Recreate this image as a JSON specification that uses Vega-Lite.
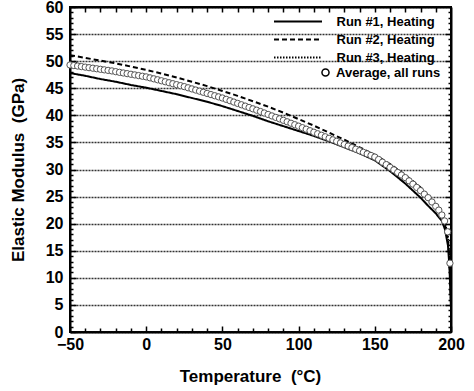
{
  "$schema": "https://vega.github.io/schema/vega-lite/v6.json",
  "width": 381,
  "height": 325,
  "autosize": {"type": "none"},
  "padding": {"left": 70, "top": 7, "right": 23, "bottom": 59},
  "background": "white",
  "config": {
    "view": {"stroke": "black", "strokeWidth": 2},
    "font": "Liberation Sans",
    "axis": {"labelFont": "Liberation Sans", "labelFontWeight": "bold", "labelFontSize": 16, "labelColor": "black", "titleFont": "Liberation Sans", "titleFontWeight": "bold", "titleFontSize": 17, "titleColor": "black", "domainColor": "black", "domainWidth": 2, "tickColor": "black", "tickWidth": 1.5},
    "legend": {"labelFont": "Liberation Sans", "labelFontWeight": "bold", "labelFontSize": 13, "labelColor": "black"}
  },
  "datasets": {
    "run1": [
      {"T": -50, "E": 47.8}, {"T": -40, "E": 47.3}, {"T": -30, "E": 46.7}, {"T": -20, "E": 46.2}, {"T": -10, "E": 45.6},
      {"T": 0, "E": 45.1}, {"T": 10, "E": 44.5}, {"T": 20, "E": 43.9}, {"T": 30, "E": 43.2}, {"T": 40, "E": 42.5},
      {"T": 50, "E": 41.7}, {"T": 60, "E": 40.8}, {"T": 70, "E": 39.9}, {"T": 80, "E": 38.9}, {"T": 90, "E": 38.0},
      {"T": 100, "E": 37.1}, {"T": 110, "E": 36.2}, {"T": 120, "E": 35.2}, {"T": 130, "E": 34.1}, {"T": 140, "E": 33.0},
      {"T": 150, "E": 31.7}, {"T": 160, "E": 29.7}, {"T": 170, "E": 27.4}, {"T": 180, "E": 24.8}, {"T": 185, "E": 23.3},
      {"T": 190, "E": 21.9}, {"T": 194, "E": 20.5}, {"T": 196, "E": 19.0}, {"T": 198, "E": 16.0}, {"T": 199, "E": 12.0},
      {"T": 199.5, "E": 8.0}, {"T": 200, "E": 4.5}
    ],
    "run2": [
      {"T": -50, "E": 51.1}, {"T": -40, "E": 50.6}, {"T": -30, "E": 50.1}, {"T": -20, "E": 49.6}, {"T": -10, "E": 49.0},
      {"T": 0, "E": 48.4}, {"T": 10, "E": 47.7}, {"T": 20, "E": 47.0}, {"T": 30, "E": 46.2}, {"T": 40, "E": 45.4},
      {"T": 50, "E": 44.5}, {"T": 60, "E": 43.6}, {"T": 70, "E": 42.6}, {"T": 80, "E": 41.6}, {"T": 90, "E": 40.5},
      {"T": 100, "E": 39.3}, {"T": 110, "E": 38.1}, {"T": 120, "E": 36.8}, {"T": 130, "E": 35.5}, {"T": 140, "E": 34.1},
      {"T": 150, "E": 32.7}, {"T": 160, "E": 31.0}, {"T": 170, "E": 29.0}, {"T": 180, "E": 26.7}, {"T": 185, "E": 25.2},
      {"T": 190, "E": 23.4}, {"T": 194, "E": 21.5}, {"T": 196, "E": 19.8}, {"T": 198, "E": 17.0}, {"T": 199, "E": 13.5},
      {"T": 199.5, "E": 9.5}, {"T": 200, "E": 5.0}
    ],
    "run3": [
      {"T": -50, "E": 50.0}, {"T": -40, "E": 49.2}, {"T": -30, "E": 48.7}, {"T": -20, "E": 48.2}, {"T": -10, "E": 47.7},
      {"T": 0, "E": 47.2}, {"T": 10, "E": 46.5}, {"T": 20, "E": 45.8}, {"T": 30, "E": 45.0}, {"T": 40, "E": 44.1},
      {"T": 50, "E": 43.3}, {"T": 60, "E": 42.4}, {"T": 70, "E": 41.3}, {"T": 80, "E": 40.2}, {"T": 90, "E": 39.2},
      {"T": 100, "E": 38.1}, {"T": 110, "E": 37.0}, {"T": 120, "E": 35.9}, {"T": 130, "E": 34.7}, {"T": 140, "E": 33.6},
      {"T": 150, "E": 32.4}, {"T": 160, "E": 30.5}, {"T": 170, "E": 28.6}, {"T": 180, "E": 26.2}, {"T": 185, "E": 24.9},
      {"T": 190, "E": 23.3}, {"T": 194, "E": 21.7}, {"T": 196, "E": 20.3}, {"T": 198, "E": 18.0}, {"T": 199, "E": 14.5},
      {"T": 199.5, "E": 10.5}, {"T": 200, "E": 6.0}
    ],
    "avg": [
      {"T": -50, "E": 49.3}, {"T": -47.5, "E": 49.2}, {"T": -45, "E": 49.1}, {"T": -42.5, "E": 49.0}, {"T": -40, "E": 48.9},
      {"T": -37.5, "E": 48.8}, {"T": -35, "E": 48.7}, {"T": -32.5, "E": 48.6}, {"T": -30, "E": 48.5}, {"T": -27.5, "E": 48.4},
      {"T": -25, "E": 48.3}, {"T": -22.5, "E": 48.2}, {"T": -20, "E": 48.06}, {"T": -17.5, "E": 47.94}, {"T": -15, "E": 47.82},
      {"T": -12.5, "E": 47.7}, {"T": -10, "E": 47.58}, {"T": -7.5, "E": 47.46}, {"T": -5, "E": 47.34}, {"T": -2.5, "E": 47.22},
      {"T": 0, "E": 47.1}, {"T": 2.5, "E": 46.92}, {"T": 5, "E": 46.74}, {"T": 7.5, "E": 46.56}, {"T": 10, "E": 46.38},
      {"T": 12.5, "E": 46.2}, {"T": 15, "E": 46.02}, {"T": 17.5, "E": 45.84}, {"T": 20, "E": 45.66}, {"T": 22.5, "E": 45.48},
      {"T": 25, "E": 45.3}, {"T": 27.5, "E": 45.09}, {"T": 30, "E": 44.88}, {"T": 32.5, "E": 44.67}, {"T": 35, "E": 44.46},
      {"T": 37.5, "E": 44.25}, {"T": 40, "E": 44.04}, {"T": 42.5, "E": 43.83}, {"T": 45, "E": 43.62}, {"T": 47.5, "E": 43.41},
      {"T": 50, "E": 43.2}, {"T": 52.5, "E": 42.95}, {"T": 55, "E": 42.7}, {"T": 57.5, "E": 42.45}, {"T": 60, "E": 42.2},
      {"T": 62.5, "E": 41.95}, {"T": 65, "E": 41.7}, {"T": 67.5, "E": 41.45}, {"T": 70, "E": 41.2}, {"T": 72.5, "E": 40.95},
      {"T": 75, "E": 40.7}, {"T": 77.5, "E": 40.43}, {"T": 80, "E": 40.16}, {"T": 82.5, "E": 39.89}, {"T": 85, "E": 39.62},
      {"T": 87.5, "E": 39.35}, {"T": 90, "E": 39.08}, {"T": 92.5, "E": 38.81}, {"T": 95, "E": 38.54}, {"T": 97.5, "E": 38.27},
      {"T": 100, "E": 38.0}, {"T": 102.5, "E": 37.72}, {"T": 105, "E": 37.44}, {"T": 107.5, "E": 37.16}, {"T": 110, "E": 36.88},
      {"T": 112.5, "E": 36.6}, {"T": 115, "E": 36.32}, {"T": 117.5, "E": 36.04}, {"T": 120, "E": 35.76}, {"T": 122.5, "E": 35.48},
      {"T": 125, "E": 35.2}, {"T": 127.5, "E": 34.91}, {"T": 130, "E": 34.62}, {"T": 132.5, "E": 34.33}, {"T": 135, "E": 34.04},
      {"T": 137.5, "E": 33.75}, {"T": 140, "E": 33.46}, {"T": 142.5, "E": 33.17}, {"T": 145, "E": 32.88}, {"T": 147.5, "E": 32.59},
      {"T": 150, "E": 32.3}, {"T": 152.5, "E": 31.85}, {"T": 155, "E": 31.35}, {"T": 157.5, "E": 30.9}, {"T": 160, "E": 30.4},
      {"T": 162.5, "E": 29.93}, {"T": 165, "E": 29.45}, {"T": 167.5, "E": 28.98}, {"T": 170, "E": 28.5}, {"T": 172.5, "E": 27.9},
      {"T": 175, "E": 27.3}, {"T": 177.5, "E": 26.7}, {"T": 180, "E": 26.1}, {"T": 182.5, "E": 25.45}, {"T": 185, "E": 24.8},
      {"T": 187.5, "E": 24.0}, {"T": 190, "E": 23.2}, {"T": 192, "E": 22.5}, {"T": 194, "E": 21.6}, {"T": 195.8, "E": 20.5},
      {"T": 197.8, "E": 18.5}, {"T": 199.3, "E": 12.7}
    ]
  },
  "resolve": {"axis": {"x": "independent", "y": "independent"}},
  "layer": [
    {
      "data": {"name": "run1"},
      "transform": [{"calculate": "'Run #1, Heating'", "as": "series"}],
      "mark": {"type": "line", "strokeWidth": 2},
      "encoding": {
        "x": {"field": "T", "type": "quantitative", "scale": {"domain": [-50, 200], "nice": false, "zero": false},
          "axis": {"orient": "bottom", "title": "Temperature\u00a0 (°C)", "titleX": 180, "values": [-50, 0, 50, 100, 150, 200], "tickSize": -6, "labelPadding": 10, "titlePadding": 16, "grid": false, "labelFlush": false}},
        "y": {"field": "E", "type": "quantitative", "scale": {"domain": [0, 60], "nice": false},
          "axis": {"orient": "left", "title": "Elastic Modulus\u00a0 (GPa)", "values": [0, 5, 10, 15, 20, 25, 30, 35, 40, 45, 50, 55, 60], "tickSize": -6, "labelPadding": 13, "titlePadding": 18, "grid": true, "gridColor": "#333", "gridDash": [2, 1], "gridWidth": 1.5}},
        "color": {"field": "series", "type": "nominal",
          "scale": {"domain": ["Run #1, Heating", "Run #2, Heating", "Run #3, Heating"], "range": ["black", "black", "black"]},
          "legend": {"title": null, "orient": "none", "legendX": 221.5, "legendY": 8, "symbolType": "M-8,0H8", "symbolSize": 36, "symbolStrokeWidth": 2, "symbolStrokeColor": "black", "symbolFillColor": "transparent", "rowPadding": 4, "labelOffset": 32}},
        "strokeDash": {"field": "series", "type": "nominal",
          "scale": {"domain": ["Run #1, Heating", "Run #2, Heating", "Run #3, Heating"], "range": [[1, 0], [5, 3], [1.5, 1.5]]},
          "legend": {"title": null, "orient": "none", "legendX": 221.5, "legendY": 8, "symbolType": "M-8,0H8", "symbolSize": 36, "symbolStrokeWidth": 2, "symbolStrokeColor": "black", "symbolFillColor": "transparent", "rowPadding": 4, "labelOffset": 32}}
      }
    },
    {
      "data": {"name": "run2"},
      "transform": [{"calculate": "'Run #2, Heating'", "as": "series"}],
      "mark": {"type": "line", "strokeWidth": 2},
      "encoding": {
        "x": {"field": "T", "type": "quantitative", "axis": {"orient": "bottom", "title": null, "values": [-40, -30, -20, -10, 10, 20, 30, 40, 60, 70, 80, 90, 110, 120, 130, 140, 160, 170, 180, 190], "tickSize": -4, "labels": false, "domain": false, "grid": false}},
        "y": {"field": "E", "type": "quantitative", "axis": {"orient": "left", "title": null, "values": [1,2,3,4,6,7,8,9,11,12,13,14,16,17,18,19,21,22,23,24,26,27,28,29,31,32,33,34,36,37,38,39,41,42,43,44,46,47,48,49,51,52,53,54,56,57,58,59], "tickSize": -3, "labels": false, "domain": false, "grid": false}},
        "color": {"field": "series", "type": "nominal"},
        "strokeDash": {"field": "series", "type": "nominal"}
      }
    },
    {
      "data": {"name": "run3"},
      "transform": [{"calculate": "'Run #3, Heating'", "as": "series"}],
      "mark": {"type": "line", "strokeWidth": 1.5},
      "encoding": {
        "x": {"field": "T", "type": "quantitative", "axis": {"orient": "top", "title": null, "values": [-40, -30, -20, -10, 0, 10, 20, 30, 40, 50, 60, 70, 80, 90, 100, 110, 120, 130, 140, 150, 160, 170, 180, 190], "tickSize": -5, "labels": false, "grid": false}},
        "y": {"field": "E", "type": "quantitative", "axis": {"orient": "right", "title": null, "values": [5, 10, 15, 20, 25, 30, 35, 40, 45, 50, 55], "tickSize": -6, "labels": false, "grid": false}},
        "color": {"field": "series", "type": "nominal"},
        "strokeDash": {"field": "series", "type": "nominal"}
      }
    },
    {
      "data": {"name": "avg"},
      "transform": [{"calculate": "'Average, all runs'", "as": "kind"}],
      "mark": {"type": "point", "shape": "circle", "filled": true, "stroke": "#555", "strokeWidth": 1, "size": 40, "opacity": 1},
      "encoding": {
        "x": {"field": "T", "type": "quantitative", "axis": null},
        "y": {"field": "E", "type": "quantitative", "axis": {"orient": "right", "title": null, "values": [1,2,3,4,6,7,8,9,11,12,13,14,16,17,18,19,21,22,23,24,26,27,28,29,31,32,33,34,36,37,38,39,41,42,43,44,46,47,48,49,51,52,53,54,56,57,58,59], "tickSize": -3, "labels": false, "domain": false, "grid": false}},
        "fill": {"field": "kind", "type": "nominal", "scale": {"range": ["white"]},
          "legend": {"title": null, "orient": "none", "legendX": 249, "legendY": 59, "symbolType": "circle", "symbolStrokeColor": "black", "symbolStrokeWidth": 1.5, "symbolSize": 50, "symbolOpacity": 1}}
      }
    }
  ]
}
